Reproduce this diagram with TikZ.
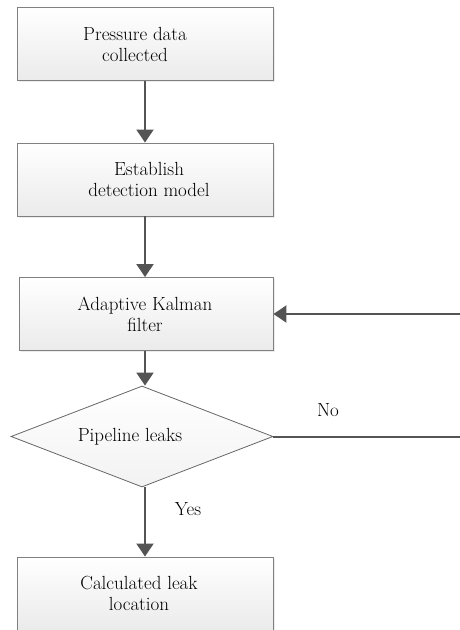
\documentclass[tikz,border=0pt]{standalone}
\usetikzlibrary{shapes.geometric,arrows.meta,shadows}
\begin{document}
\begin{tikzpicture}[x=1pt,y=1pt,
  every node/.style={font=\fontsize{19}{21}\selectfont},
  procbox/.style={draw=black!50,line width=0.9pt,top color=white,bottom color=black!8,
    minimum width=256pt,minimum height=73pt,inner sep=0pt,
    drop shadow={shadow xshift=1.5pt,shadow yshift=-1.5pt,fill=black!12,opacity=0.6}},
  decision/.style={diamond,draw=black!60,line width=0.8pt,top color=white,bottom color=black!5,
    minimum width=262pt,minimum height=101pt,aspect=2.6,inner sep=0pt},
  caption/.style={align=center,inner sep=0pt},
  flow/.style={draw=black!67,line width=2pt,-{Triangle[length=13pt,width=17pt]}},
  plain/.style={draw=black!67,line width=2pt}
]
\useasboundingbox (0,0) rectangle (460,-630);

% process boxes and the decision, each with its caption set slightly off centre
\node[procbox] (collect) at (145,-44) {};
\node[caption] (collect-t) at ([xshift=-10pt]collect.center) {Pressure data\\collected};
\node[procbox] (model) at (145,-179.5) {};
\node[caption] (model-t) at ([xshift=4pt]model.center) {Establish\\detection model};
\node[procbox,minimum width=254pt] (kalman) at (146,-314) {};
\node[caption] (kalman-t) at ([xshift=-1pt]kalman.center) {Adaptive Kalman\\filter};
\node[decision] (leak) at (142,-436.5) {};
\node[caption] (leak-t) at ([xshift=-12pt]leak.center) {Pipeline leaks};
\node[procbox] (locate) at (145,-593.5) {};
\node[caption] (locate-t) at ([xshift=-6pt]locate.center) {Calculated leak\\location};

\coordinate (noend) at (461,-436.5);
\coordinate (backin) at (461,-314);

\draw[flow] (collect.south -| 145,0) -- (model.north -| 145,0);
\draw[flow] (model.south -| 145,0) -- (kalman.north -| 145,0);
\draw[flow] (kalman.south -| 145,0) -- (leak.north -| 145,0);
\draw[flow] (leak.south -| 145,0) -- (locate.north -| 145,0);
\draw[plain] (leak.east) -- (noend);
\draw[flow] (backin) -- (kalman.east);

\node (no) at (328,-410) {No};
\node (yes) at (188,-509) {Yes};
\end{tikzpicture}
\end{document}
